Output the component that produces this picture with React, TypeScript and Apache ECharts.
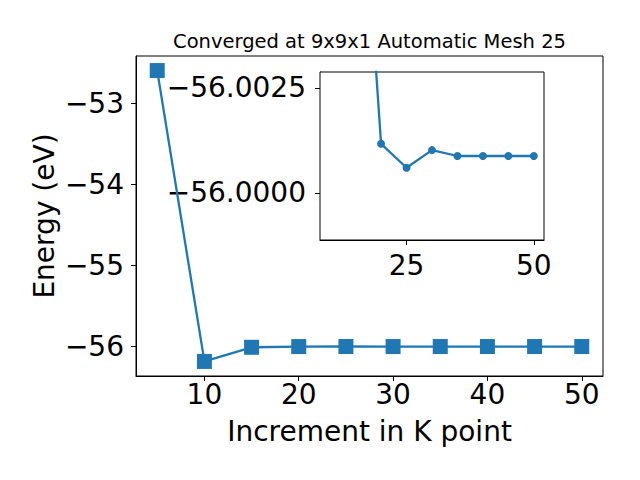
import React, { useEffect, useRef } from "react";
import * as echarts from "echarts";

const kPoints = [5, 10, 15, 20, 25, 30, 35, 40, 45, 50];
const energies = [-52.59, -56.185, -56.01, -56.00117, -56.0006, -56.00102, -56.00088, -56.00088, -56.00088, -56.00088];
const insetK = [10, 15, 20, 25, 30, 35, 40, 45, 50];
const insetEnergies = [-56.185, -56.01, -56.00117, -56.0006, -56.00102, -56.00088, -56.00088, -56.00088, -56.00088];
const mainXTicks = [10, 20, 30, 40, 50];
const mainYTicks = [-56, -55, -54, -53];
const insetXTicks = [25, 50];
const insetYTicks = [-56.0025, -56.0];
const titleText = "Converged at 9x9x1 Automatic Mesh 25";
const xLabel = "Increment in K point";
const yLabel = "Energy (eV)";

const FONT = "DejaVu Sans";
const BLUE = "#1f77b4";
const FS = 28;

export default function App() {
  const ref = useRef<HTMLDivElement>(null);
  useEffect(() => {
    if (!ref.current) return;
    const chart = echarts.init(ref.current, null, { renderer: "svg" });
    const minus = (s: string) => s.replace("-", "\u2212");
    const axisCommon = {
      axisLine: { show: true, onZero: false, lineStyle: { color: "#000", width: 1 } },
      axisTick: { show: true, inside: false, length: 5, lineStyle: { color: "#000", width: 1 } },
      splitLine: { show: false },
    };
    chart.setOption({
      animation: false,
      backgroundColor: "#fff",
      textStyle: { fontFamily: FONT },
      grid: [
        { left: 136, top: 56, width: 467, height: 320, show: true, borderColor: "#000", borderWidth: 1, backgroundColor: "transparent" },
        { left: 320, top: 72, width: 224, height: 168, show: true, borderColor: "#000", borderWidth: 1, backgroundColor: "#fff", z: 5 },
      ],
      xAxis: [
        {
          type: "value", gridIndex: 0, min: 2.75, max: 52.25, ...axisCommon,
          axisTick: { ...axisCommon.axisTick, customValues: mainXTicks },
          axisLabel: { customValues: mainXTicks, fontSize: FS, color: "#000", fontFamily: FONT, margin: 4 },
        },
        {
          type: "value", gridIndex: 1, min: 8, max: 52, ...axisCommon,
          axisTick: { ...axisCommon.axisTick, customValues: insetXTicks },
          axisLabel: { customValues: insetXTicks, fontSize: FS, color: "#000", fontFamily: FONT, margin: 11 },
        },
      ],
      yAxis: [
        {
          type: "value", gridIndex: 0, min: -56.365, max: -52.41, ...axisCommon,
          axisTick: { ...axisCommon.axisTick, customValues: mainYTicks },
          axisLabel: { customValues: mainYTicks, fontSize: FS, color: "#000", fontFamily: FONT, margin: 12, formatter: (v: number) => minus(String(v)) },
        },
        {
          type: "value", gridIndex: 1, inverse: true, min: -56.00288, max: -55.99888, ...axisCommon,
          axisTick: { ...axisCommon.axisTick, customValues: insetYTicks },
          axisLabel: { customValues: insetYTicks, fontSize: FS, color: "#000", fontFamily: FONT, margin: 14, formatter: (v: number) => minus(v.toFixed(4)) },
        },
      ],
      series: [
        {
          type: "line", xAxisIndex: 0, yAxisIndex: 0,
          data: kPoints.map((k, i) => [k, energies[i]]),
          symbol: "rect", symbolSize: 15, showAllSymbol: true,
          lineStyle: { color: BLUE, width: 2.3 }, itemStyle: { color: BLUE },
          z: 2,
        },
        {
          type: "line", xAxisIndex: 1, yAxisIndex: 1, clip: true,
          data: insetK.map((k, i) => [k, insetEnergies[i]]),
          symbol: "circle", symbolSize: 8, showAllSymbol: true,
          lineStyle: { color: BLUE, width: 2.3 }, itemStyle: { color: BLUE },
          z: 10,
        },
      ],
      graphic: [
        { type: "text", x: 369.5, y: 51, style: { text: titleText, fontSize: 19.5, fontFamily: FONT, fill: "#000", textAlign: "center", textVerticalAlign: "bottom" } },
        { type: "text", x: 369.5, y: 431, style: { text: xLabel, fontSize: FS, fontFamily: FONT, fill: "#000", textAlign: "center", textVerticalAlign: "middle" } },
        { type: "text", x: 44, y: 216, rotation: Math.PI / 2, style: { text: yLabel, fontSize: FS, fontFamily: FONT, fill: "#000", textAlign: "center", textVerticalAlign: "middle" } },
      ],
    });
    return () => chart.dispose();
  }, []);
  return <div ref={ref} style={{ width: 640, height: 480, position: "absolute", left: 0, top: 0 }} />;
}
